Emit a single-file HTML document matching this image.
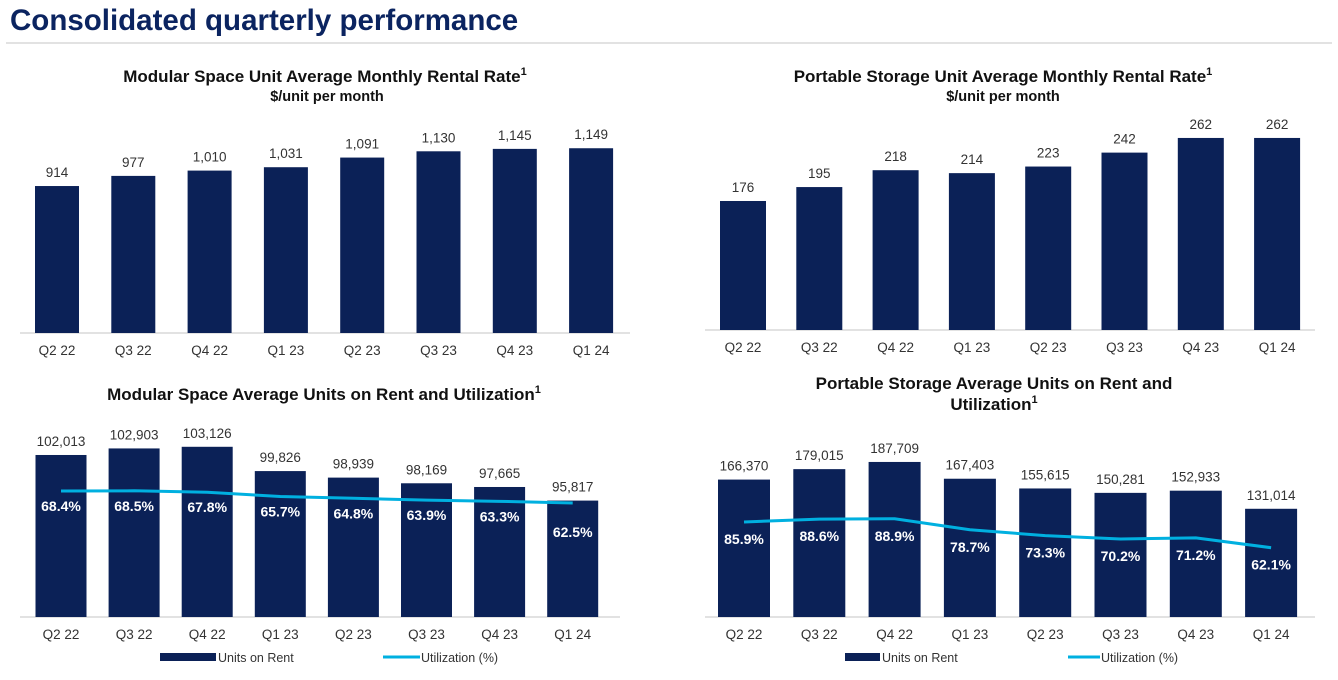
<!DOCTYPE html>
<html><head><meta charset="utf-8">
<style>
html,body{margin:0;padding:0;background:#fff;}
svg{display:block;font-family:"Liberation Sans",Arial,sans-serif;}
</style></head>
<body>
<svg id="s" width="1338" height="680" viewBox="0 0 1338 680" xmlns="http://www.w3.org/2000/svg">
<text x="10" y="30" font-size="29.5" font-weight="bold" fill="#0b2460">Consolidated quarterly performance</text>
<line x1="6" y1="43" x2="1332" y2="43" stroke="#d9d9d9" stroke-width="1.5"/>
<text x="325" y="82" font-size="17" font-weight="bold" text-anchor="middle" fill="#111">Modular Space Unit Average Monthly Rental Rate<tspan font-size="11" dy="-7">1</tspan></text>
<text x="327" y="101" font-size="14.5" font-weight="bold" text-anchor="middle" fill="#111">$/unit per month</text>
<text x="1003" y="82" font-size="17" font-weight="bold" text-anchor="middle" fill="#111">Portable Storage Unit Average Monthly Rental Rate<tspan font-size="11" dy="-7">1</tspan></text>
<text x="1003" y="101" font-size="14.5" font-weight="bold" text-anchor="middle" fill="#111">$/unit per month</text>
<text x="324" y="400" font-size="17" font-weight="bold" text-anchor="middle" fill="#111">Modular Space Average Units on Rent and Utilization<tspan font-size="11" dy="-7">1</tspan></text>
<text x="994" y="389" font-size="17" font-weight="bold" text-anchor="middle" fill="#111">Portable Storage Average Units on Rent and</text>
<text x="994" y="410" font-size="17" font-weight="bold" text-anchor="middle" fill="#111">Utilization<tspan font-size="11" dy="-7">1</tspan></text>
</svg>
<script>
const categories=["Q2 22","Q3 22","Q4 22","Q1 23","Q2 23","Q3 23","Q4 23","Q1 24"];
const modularRate=[914,977,1010,1031,1091,1130,1145,1149];
const portableRate=[176,195,218,214,223,242,262,262];
const modularUnits=[102013,102903,103126,99826,98939,98169,97665,95817];
const modularUtil=[68.4,68.5,67.8,65.7,64.8,63.9,63.3,62.5];
const portableUnits=[166370,179015,187709,167403,155615,150281,152933,131014];
const portableUtil=[85.9,88.6,88.9,78.7,73.3,70.2,71.2,62.1];

const NS="http://www.w3.org/2000/svg";
const svg=document.getElementById('s');
const BAR="#0b2157", LINE="#00b0e0";
function mk(tag,attrs){const e=document.createElementNS(NS,tag);for(const k in attrs)e.setAttribute(k,attrs[k]);svg.appendChild(e);return e;}
function fmt(v){return v.toLocaleString('en-US');}

function chart(cfg,id){
  const xs=i=>cfg.x0+i*cfg.step;
  const ys=v=>cfg.base-(v-cfg.min)*cfg.k;
  const ax=mk('line',{x1:cfg.ax1,x2:cfg.ax2,y1:cfg.base,y2:cfg.base,stroke:"#d9d9d9","stroke-width":1.5});
  
  
  cfg.vals.forEach((v,i)=>{
    const y=ys(v);
    const r=mk('rect',{x:xs(i)-cfg.bw/2,y:y,width:cfg.bw,height:cfg.base-y,fill:BAR});
    
    
    const t=mk('text',{x:xs(i),y:y-9,"font-size":13.5,"text-anchor":"middle",fill:"#333"});
    t.textContent=fmt(v);
    
    
    const c=mk('text',{x:xs(i),y:cfg.base+22,"font-size":13.5,"text-anchor":"middle",fill:"#333"});
    c.textContent=categories[i];
    
    
  });
  if(cfg.util){
    const uy=v=>cfg.uBase-(v-cfg.uRef)*cfg.uk;
    let d="";
    cfg.util.forEach((v,i)=>{d+=(i?"L":"M")+xs(i)+","+uy(v);});
    const p=mk('path',{d:d,fill:"none",stroke:LINE,"stroke-width":3,"stroke-linejoin":"round"});
    
    
    cfg.util.forEach((v,i)=>{
      const t=mk('text',{x:xs(i),y:uy(v)+cfg.lo+(i===cfg.util.length-1?cfg.lastExtra:0),"font-size":14,"font-weight":"bold","text-anchor":"middle",fill:"#fff"});
      t.textContent=v.toFixed(1)+"%";
      
      
    });
    const L=cfg.leg;
    const s1=mk('rect',{x:L[0],y:653,width:L[1]-L[0],height:8,fill:BAR});
    
    
    const t1=mk('text',{x:L[1]+2,y:662,"font-size":12.5,fill:"#333"});t1.textContent="Units on Rent";
    
    
    const s2=mk('line',{x1:L[2],x2:L[3],y1:657,y2:657,stroke:LINE,"stroke-width":3});
    
    
    const t2=mk('text',{x:L[3]+1,y:662,"font-size":12.5,fill:"#333"});t2.textContent="Utilization (%)";
    
    
  }
}
chart({vals:modularRate,x0:57,step:76.3,bw:44,base:333,min:0,k:0.1608,ax1:20,ax2:630},'modular-rate');
chart({vals:portableRate,x0:743,step:76.3,bw:46,base:330,min:0,k:0.733,ax1:705,ax2:1315},'portable-rate');
chart({vals:modularUnits,util:modularUtil,x0:61,step:73.1,bw:51,base:617,min:80000,k:0.00736,ax1:20,ax2:620,uBase:491,uRef:68.4,uk:2.03,lo:20,lastExtra:14,leg:[160,216,383,420]},'modular-units');
chart({vals:portableUnits,util:portableUtil,x0:744,step:75.3,bw:52,base:617,min:0,k:0.000826,ax1:705,ax2:1315,uBase:522,uRef:85.9,uk:1.08,lo:22,lastExtra:0,leg:[845,880,1068,1100]},'portable-units');
</script>
</body></html>
